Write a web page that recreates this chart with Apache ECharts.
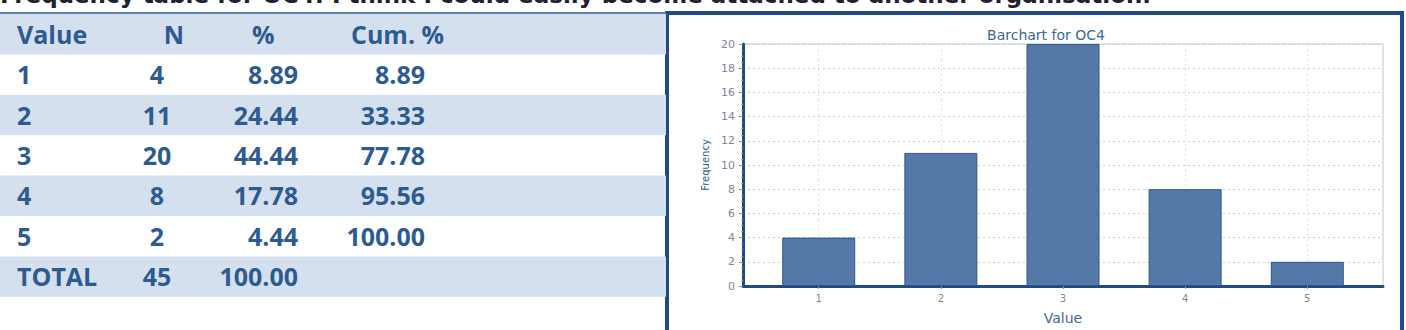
<!DOCTYPE html>
<html>
<head>
<meta charset="utf-8">
<script src="https://cdn.jsdelivr.net/npm/echarts@6/dist/echarts.min.js"></script>
<style>
html,body{margin:0;padding:0;background:#fff;}
#main{width:1406px;height:330px;}
</style>
</head>
<body>
<div id="main"></div>
<script>
// ---- data ----
var pageTitle = 'Frequency table for OC4: I think I could easily become attached to another organisation.';
var tableHeaders = ['Value', 'N', '%', 'Cum. %'];
var tableValues = ['1', '2', '3', '4', '5', 'TOTAL'];
var tableCounts = ['4', '11', '20', '8', '2', '45'];
var tablePct = ['8.89', '24.44', '44.44', '17.78', '4.44', '100.00'];
var tableCum = ['8.89', '33.33', '77.78', '95.56', '100.00', ''];

var chartTitle = 'Barchart for OC4';
var categories = [1, 2, 3, 4, 5];
var frequencies = [4, 11, 20, 8, 2];
var yTicks = [0, 20, 2]; // min, max, interval

// ---- build ----
var chart = echarts.init(document.getElementById('main'), null, {renderer: 'svg'});
var txtColor = '#2d5b91';
var shade = '#d5e0ee';
var font = '"Open Sans", sans-serif';
var g = [];

// page title (cut off at top, as in the source picture)
g.push({type: 'text', left: 0, top: -17, z: 5,
  style: {text: pageTitle, fill: '#1c2230', font: 'bold 23px "DejaVu Sans", sans-serif'}});

// table rows
var rowTop = 14, rowH = 40.4;
g.push({type: 'rect', z: 1, shape: {x: 0, y: rowTop, width: 666, height: rowH}, style: {fill: shade}});
for (var i = 0; i < tableValues.length; i++) {
  if (i % 2 === 1) {
    g.push({type: 'rect', z: 1, shape: {x: 0, y: rowTop + rowH * (i + 1), width: 666, height: rowH}, style: {fill: shade}});
  }
}
g.push({type: 'line', z: 2, shape: {x1: 0, y1: 13, x2: 666, y2: 13}, style: {stroke: '#5a82b4', lineWidth: 2}});

function cell(txt, x, yc, align) {
  g.push({type: 'text', z: 3, x: x, y: yc,
    style: {text: txt, fill: txtColor, font: 'bold 25px ' + font, align: align, verticalAlign: 'middle'}});
}
var hy = rowTop + rowH / 2 - 0.5;
cell(tableHeaders[0], 17, hy, 'left');
cell(tableHeaders[1], 174, hy, 'center');
cell(tableHeaders[2], 252, hy, 'left');
cell(tableHeaders[3], 351, hy, 'left');
for (var r = 0; r < tableValues.length; r++) {
  var yc = rowTop + rowH * (r + 1) + rowH / 2 - 0.5;
  cell(tableValues[r], 17, yc, 'left');
  cell(tableCounts[r], 157, yc, 'center');
  cell(tablePct[r], 298, yc, 'right');
  cell(tableCum[r], 425, yc, 'right');
}

// chart frame
g.push({type: 'rect', z: -10, shape: {x: 667, y: 13, width: 735, height: 400},
  style: {fill: '#ffffff', stroke: '#1f4a86', lineWidth: 4}});

var barData = categories.map(function (c, i) { return [c, frequencies[i]]; });

chart.setOption({
  animation: false,
  backgroundColor: 'transparent',
  title: {
    text: chartTitle, left: 1041, top: 23, textAlign: 'center',
    textStyle: {color: '#3a6698', fontSize: 14, fontWeight: 'normal', fontFamily: '"DejaVu Sans", sans-serif'}
  },
  graphic: g,
  grid: {left: 743, right: 23, top: 44, bottom: 37, show: true, borderColor: '#b9c8da', borderWidth: 1, backgroundColor: 'transparent'},
  xAxis: {
    type: 'value', min: 0.38, max: 5.62,
    name: 'Value', nameLocation: 'middle', nameGap: 25,
    nameTextStyle: {color: '#44679a', fontSize: 14, fontFamily: '"DejaVu Sans", sans-serif'},
    axisLine: {show: true, onZero: false, lineStyle: {color: '#1f4a86', width: 3}},
    axisTick: {show: true, length: 3, customValues: categories, lineStyle: {color: '#7f93ad'}},
    axisLabel: {customValues: categories, color: '#7d8898', fontSize: 10, margin: 7, fontFamily: '"DejaVu Sans", sans-serif'},
    splitLine: {show: true, lineStyle: {color: '#dde0e5', type: [2, 3], width: 1}}
  },
  yAxis: {
    type: 'value', min: yTicks[0], max: yTicks[1], interval: yTicks[2],
    name: 'Frequency', nameLocation: 'middle', nameGap: 33, nameRotate: 90,
    nameTextStyle: {color: '#2e5a8c', fontSize: 10, fontFamily: '"DejaVu Sans", sans-serif'},
    axisLine: {show: true, lineStyle: {color: '#1f4a86', width: 3}},
    axisTick: {show: true, length: 4, lineStyle: {color: '#7f93ad'}},
    minorTick: {show: true, splitNumber: 4, length: 2, lineStyle: {color: '#9fb0c4'}},
    axisLabel: {color: '#7d8898', fontSize: 11, margin: 8, fontFamily: '"DejaVu Sans", sans-serif'},
    splitLine: {show: true, lineStyle: {color: '#c9ced6', type: [2, 3], width: 1}}
  },
  series: [{
    type: 'bar', data: barData, barWidth: 73,
    itemStyle: {color: '#5479a8', borderColor: '#2e5689', borderWidth: 1}
  }]
});
</script>
</body>
</html>
